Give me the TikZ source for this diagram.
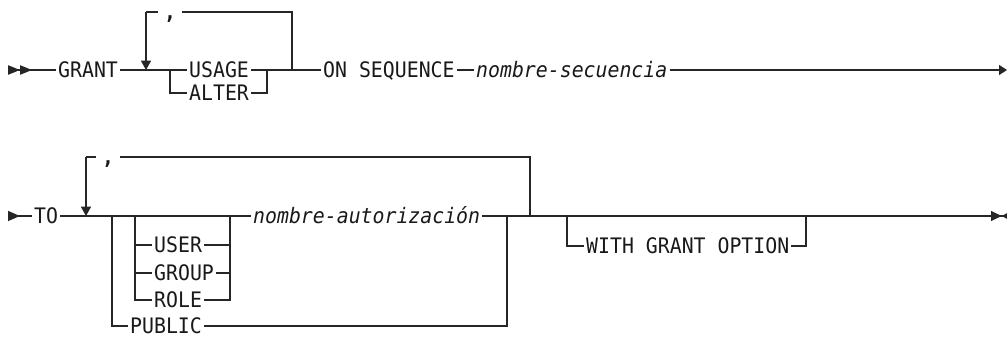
\documentclass[tikz,border=0pt]{standalone}
\usepackage{fontspec}
\newfontfamily\rrfont[FakeStretch=0.93]{DejaVu Sans Mono}
\usetikzlibrary{arrows.meta}

\begin{document}
\begin{tikzpicture}[
    x=0.75pt, y=-0.75pt,
    line width=0.9pt, draw=black!85, text=black!90,
    font=\rrfont\fontsize{16}{18}\selectfont,
    kw/.style={inner xsep=1.2pt, inner ysep=0pt, anchor=west, text height=11.6pt, text depth=0pt},
    var/.style={kw, font=\rrfont\itshape\fontsize{16}{18}\selectfont},
    sep/.style={kw, anchor=center, inner xsep=4pt, font=\rrfont\bfseries\fontsize{16}{18}\selectfont},
    downarr/.style={-{Triangle[length=7pt, width=7.5pt]}},
    startarr/.style={{Triangle[reversed, length=9pt, width=7pt]Triangle[reversed, length=9pt, width=7pt]}-},
    contin/.style={{Triangle[reversed, length=9pt, width=7.5pt]}-},
    contout/.style={-{Triangle[length=6pt, width=7.5pt]}},
    stoparr/.style={-{Triangle[length=8pt, width=7.5pt]Triangle[reversed, length=4pt, width=4pt]}}
]
\useasboundingbox (0,0) rectangle (1007,339);

% Nodes, first line
\node[kw] (grant) at (56,70) {GRANT};
\node[kw] (usage) at (187,70) {USAGE};
\node[kw] (alter) at (187,93) {ALTER};
\node[kw] (onseq) at (321,70) {ON SEQUENCE};
\node[var] (nomsec) at (474,70) {nombre-secuencia};
\node[sep] (comma1) at (170,12) {,};

% Nodes, second line
\node[kw] (to) at (32,216) {TO};
\node[kw] (user) at (152,245) {USER};
\node[kw] (group) at (152,273) {GROUP};
\node[kw] (role) at (152,300) {ROLE};
\node[kw] (public) at (128,326) {PUBLIC};
\node[var] (nomaut) at (251,216) {nombre-autorización};
\node[kw] (wgo) at (584,246) {WITH GRANT OPTION};
\node[sep] (comma2) at (108,157) {,};

% Junctions
\coordinate (s1) at (8,70);
\coordinate (lp1top) at (146,12);
\coordinate (lp1) at (146,70);
\coordinate (bl1) at (170,70);
\coordinate (br1) at (267,70);
\coordinate (lp1rtop) at (292,12);
\coordinate (lp1r) at (292,70);
\coordinate (e1) at (1007,70);
\coordinate (s2) at (8,216);
\coordinate (lp2top) at (86,157);
\coordinate (lp2) at (86,216);
\coordinate (obl) at (112,216);
\coordinate (ibl) at (135,216);
\coordinate (ibr) at (230,216);
\coordinate (obr) at (507,216);
\coordinate (lp2rtop) at (530,157);
\coordinate (lp2r) at (530,216);
\coordinate (optl) at (567,216);
\coordinate (optr) at (806,216);
\coordinate (e2) at (1007,216);

% Edges, first line
\draw[startarr] (s1) -- (grant.west);
\draw (grant.east) -- (usage.west);
\draw (usage.east) -- (br1) -- (onseq.west);
\draw (bl1) |- (alter.west);
\draw (alter.east) -| (br1);
\draw[downarr] (lp1top) -- (lp1);
\draw (lp1top) -- (comma1.west);
\draw (comma1.east) -- (lp1rtop) -- (lp1r);
\draw (onseq.east) -- (nomsec.west);
\draw[contout] (nomsec.east) -- (e1);

% Edges, second line
\draw[contin] (s2) -- (to.west);
\draw (to.east) -- (nomaut.west);
\draw (obl) |- (public.west);
\draw (public.east) -| (obr);
\draw (ibl) |- (role.west);
\draw (ibl |- user) -- (user.west);
\draw (ibl |- group) -- (group.west);
\draw (user.east) -- (ibr |- user);
\draw (group.east) -- (ibr |- group);
\draw (role.east) -| (ibr);
\draw[downarr] (lp2top) -- (lp2);
\draw (lp2top) -- (comma2.west);
\draw (comma2.east) -- (lp2rtop) -- (lp2r);
\draw[stoparr] (nomaut.east) -- (e2);
\draw (optl) |- (wgo.west);
\draw (wgo.east) -| (optr);

\end{tikzpicture}
\end{document}
